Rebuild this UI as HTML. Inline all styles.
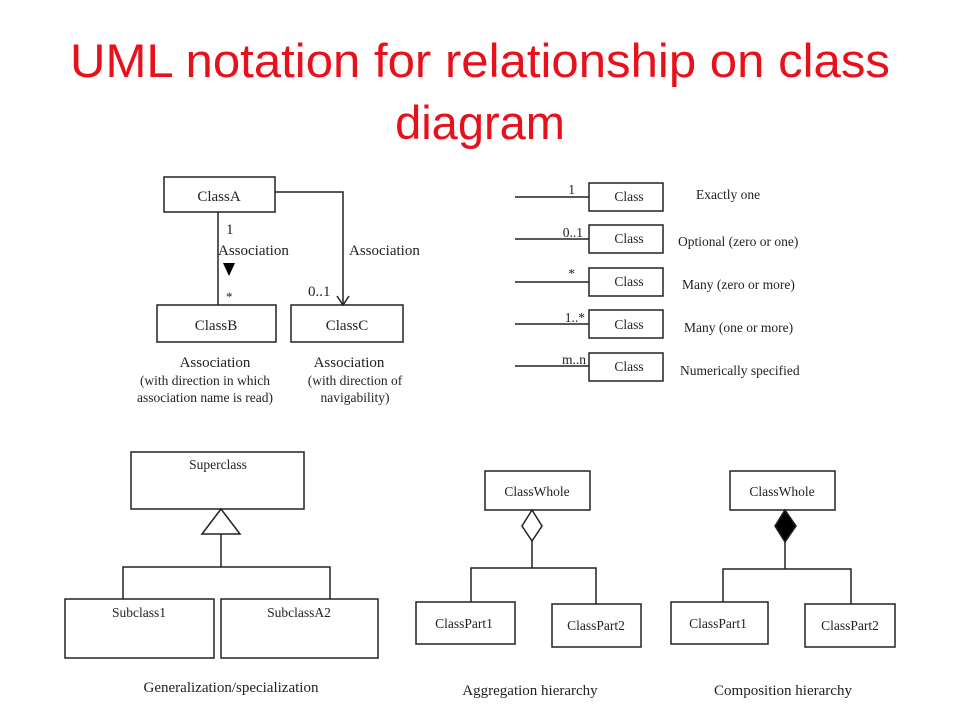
<!DOCTYPE html>
<html><head><meta charset="utf-8"><style>
html,body{margin:0;padding:0;background:#fff;width:960px;height:720px;overflow:hidden}
</style></head><body>
<svg width="960" height="720" xmlns="http://www.w3.org/2000/svg">
<text x="70" y="77" textLength="820" lengthAdjust="spacingAndGlyphs" font-family="Liberation Sans, sans-serif" font-size="47" fill="#e8101b">UML notation for relationship on class</text>
<text x="480" y="139" text-anchor="middle" font-family="Liberation Sans, sans-serif" font-size="47" fill="#e8101b">diagram</text>
<g fill="none" stroke="#222" stroke-width="1.5">
<rect x="164" y="177" width="111" height="35"/>
<rect x="157" y="305" width="119" height="37"/>
<rect x="291" y="305" width="112" height="37"/>
<line x1="218" y1="212" x2="218" y2="305"/>
<polyline points="275,192 343,192 343,305"/>
<polyline points="337,296 343,305 349,296"/>
<line x1="515" y1="197" x2="589" y2="197"/><rect x="589" y="183" width="74" height="28"/>
<line x1="515" y1="239" x2="589" y2="239"/><rect x="589" y="225" width="74" height="28"/>
<line x1="515" y1="282" x2="589" y2="282"/><rect x="589" y="268" width="74" height="28"/>
<line x1="515" y1="324" x2="589" y2="324"/><rect x="589" y="310" width="74" height="28"/>
<line x1="515" y1="366" x2="589" y2="366"/><rect x="589" y="353" width="74" height="28"/>
<rect x="131" y="452" width="173" height="57"/>
<polygon points="221,509 202,534 240,534"/>
<line x1="221" y1="534" x2="221" y2="567"/>
<polyline points="123,599 123,567 330,567 330,599"/>
<rect x="65" y="599" width="149" height="59"/>
<rect x="221" y="599" width="157" height="59"/>
<rect x="485" y="471" width="105" height="39"/>
<polygon points="532,510 542,526 532,541 522,526"/>
<line x1="532" y1="541" x2="532" y2="568"/>
<polyline points="471,602 471,568 596,568 596,604"/>
<rect x="416" y="602" width="99" height="42"/>
<rect x="552" y="604" width="89" height="43"/>
<rect x="730" y="471" width="105" height="39"/>
<polygon points="785,510 796,526 785,542 775,526" fill="#000"/>
<line x1="785" y1="542" x2="785" y2="569"/>
<polyline points="723,602 723,569 851,569 851,604"/>
<rect x="671" y="602" width="97" height="42"/>
<rect x="805" y="604" width="90" height="43"/>
</g>
<polygon points="223,263 235,263 229,276" fill="#000"/>
<g font-family="Liberation Serif, serif" fill="#222" font-size="15">
<text x="219" y="201" text-anchor="middle">ClassA</text>
<text x="216" y="330" text-anchor="middle">ClassB</text>
<text x="347" y="330" text-anchor="middle">ClassC</text>
<text x="226" y="234">1</text>
<text x="218" y="255">Association</text>
<text x="349" y="255">Association</text>
<text x="226" y="301" font-size="13">*</text>
<text x="308" y="296">0..1</text>
<text x="215" y="367" text-anchor="middle">Association</text>
<text x="349" y="367" text-anchor="middle">Association</text>
<g font-size="13.5">
<text x="205" y="385" text-anchor="middle">(with direction in which</text>
<text x="205" y="402" text-anchor="middle">association name is read)</text>
<text x="355" y="385" text-anchor="middle">(with direction of</text>
<text x="355" y="402" text-anchor="middle">navigability)</text>
<text x="629" y="201" text-anchor="middle">Class</text>
<text x="629" y="243" text-anchor="middle">Class</text>
<text x="629" y="286" text-anchor="middle">Class</text>
<text x="629" y="329" text-anchor="middle">Class</text>
<text x="629" y="371" text-anchor="middle">Class</text>
<text x="575" y="194" text-anchor="end">1</text>
<text x="583" y="237" text-anchor="end">0..1</text>
<text x="575" y="278" text-anchor="end">*</text>
<text x="585" y="322" text-anchor="end">1..*</text>
<text x="586" y="364" text-anchor="end">m..n</text>
<text x="696" y="199">Exactly one</text>
<text x="678" y="246">Optional (zero or one)</text>
<text x="682" y="289">Many (zero or more)</text>
<text x="684" y="332">Many (one or more)</text>
<text x="680" y="375">Numerically specified</text>
<text x="218" y="469" text-anchor="middle">Superclass</text>
<text x="139" y="617" text-anchor="middle">Subclass1</text>
<text x="299" y="617" text-anchor="middle">SubclassA2</text>
<text x="537" y="496" text-anchor="middle">ClassWhole</text>
<text x="464" y="628" text-anchor="middle">ClassPart1</text>
<text x="596" y="630" text-anchor="middle">ClassPart2</text>
<text x="782" y="496" text-anchor="middle">ClassWhole</text>
<text x="718" y="628" text-anchor="middle">ClassPart1</text>
<text x="850" y="630" text-anchor="middle">ClassPart2</text>
</g>
<g font-size="15">
<text x="231" y="692" text-anchor="middle">Generalization/specialization</text>
<text x="530" y="695" text-anchor="middle">Aggregation hierarchy</text>
<text x="783" y="695" text-anchor="middle">Composition hierarchy</text>
</g>
</g>
</svg>
</body></html>
